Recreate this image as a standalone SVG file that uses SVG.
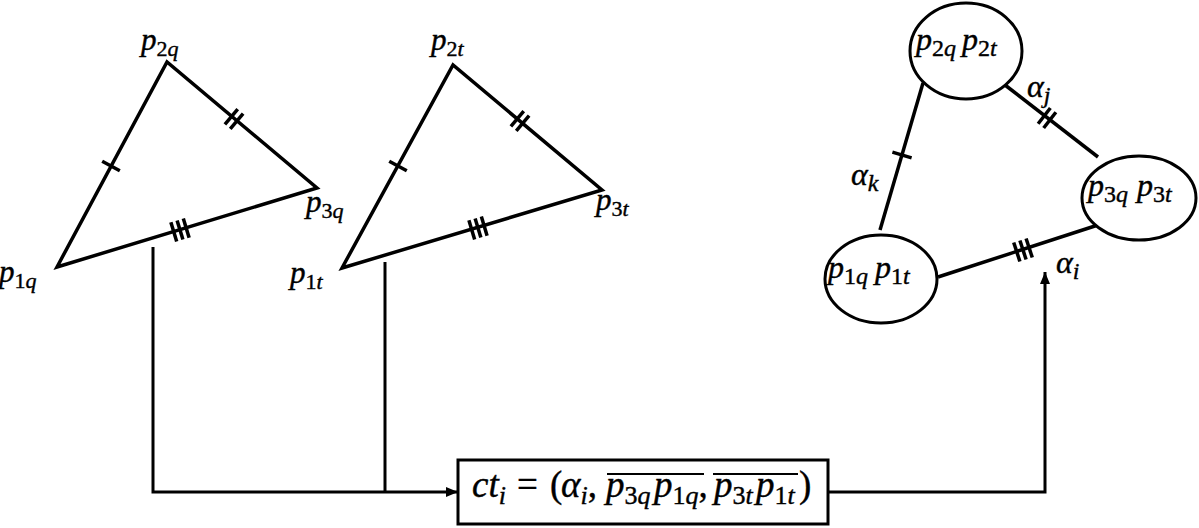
<svg xmlns="http://www.w3.org/2000/svg" width="1199" height="528" viewBox="0 0 1199 528">
<style>
.edge{fill:none;stroke:#000;stroke-width:3.5;stroke-linejoin:miter}
.tk{stroke:#000;stroke-width:3.5}
.conn{fill:none;stroke:#000;stroke-width:3}
.node{fill:#fff;stroke:#000;stroke-width:3}
text{font-family:"Liberation Serif","Times New Roman",serif;font-style:italic;fill:#000;stroke:#000;stroke-width:0.4}
.lbl{font-size:31px}
.el{font-size:32px}
.bx{font-size:37px}
.n{font-style:normal}
.s1{font-size:22px}
.s2{font-size:24px}
.s3{font-size:26px}
</style>
<defs>
<g id="t1"><line class="tk" x1="0" y1="-10" x2="0" y2="10"/></g>
<g id="t2"><line class="tk" x1="-3.5" y1="-10" x2="-3.5" y2="10"/><line class="tk" x1="3.5" y1="-10" x2="3.5" y2="10"/></g>
<g id="t3"><line class="tk" x1="-6.5" y1="-10" x2="-6.5" y2="10"/><line class="tk" x1="0" y1="-10" x2="0" y2="10"/><line class="tk" x1="6.5" y1="-10" x2="6.5" y2="10"/></g>
<marker id="arr" markerUnits="userSpaceOnUse" markerWidth="13" markerHeight="10" refX="12" refY="5" orient="auto"><path d="M0,0 L12,5 L0,10 z" fill="#000"/></marker>
</defs>

<g id="triangle-q">
<polygon class="edge" points="57,267 167,62 317,188"/>
<use href="#t1" transform="translate(111,166) rotate(-61.8)"/>
<use href="#t2" transform="translate(234,119) rotate(40)"/>
<use href="#t3" transform="translate(180,230) rotate(-16.9)"/>
<text class="lbl" x="141" y="50">p<tspan class="s1 n" dy="6">2</tspan><tspan class="s1">q</tspan></text>
<text class="lbl" x="306" y="212">p<tspan class="s1 n" dy="6">3</tspan><tspan class="s1">q</tspan></text>
<text class="lbl" x="-1" y="282">p<tspan class="s1 n" dy="6">1</tspan><tspan class="s1">q</tspan></text>
</g>

<g id="triangle-t">
<polygon class="edge" points="342,268 453,65 602,190"/>
<use href="#t1" transform="translate(398,166) rotate(-61.3)"/>
<use href="#t2" transform="translate(520,121) rotate(40)"/>
<use href="#t3" transform="translate(478,228) rotate(-16.7)"/>
<text class="lbl" x="431" y="50">p<tspan class="s1 n" dy="6">2</tspan><tspan class="s1">t</tspan></text>
<text class="lbl" x="596" y="210">p<tspan class="s1 n" dy="6">3</tspan><tspan class="s1">t</tspan></text>
<text class="lbl" x="290" y="283">p<tspan class="s1 n" dy="6">1</tspan><tspan class="s1">t</tspan></text>
</g>

<g id="graph-edges">
<line class="edge" x1="923" y1="83" x2="880" y2="230"/>
<line class="edge" x1="1005" y1="85" x2="1098" y2="157"/>
<line class="edge" x1="938" y1="277" x2="1098" y2="225"/>
<use href="#t1" transform="translate(902,155) rotate(106.3)"/>
<use href="#t2" transform="translate(1047,118) rotate(37.7)"/>
<use href="#t3" transform="translate(1023,250) rotate(-18)"/>
<text class="el" x="1027" y="97">α<tspan class="s2" dy="6">j</tspan></text>
<text class="el" x="851" y="185">α<tspan class="s2" dy="6">k</tspan></text>
<text class="el" x="1056" y="273">α<tspan class="s2" dy="6">i</tspan></text>
</g>

<g id="node-p2">
<ellipse class="node" cx="966" cy="51" rx="56" ry="48"/>
<text class="el" y="50"><tspan x="916">p</tspan><tspan class="s2 n" dy="6">2</tspan><tspan class="s2">q</tspan><tspan x="962" dy="-6">p</tspan><tspan class="s2 n" dy="6">2</tspan><tspan class="s2">t</tspan></text>
</g>
<g id="node-p3">
<ellipse class="node" cx="1139" cy="198" rx="57" ry="42"/>
<text class="el" y="196"><tspan x="1088">p</tspan><tspan class="s2 n" dy="6">3</tspan><tspan class="s2">q</tspan><tspan x="1137" dy="-6">p</tspan><tspan class="s2 n" dy="6">3</tspan><tspan class="s2">t</tspan></text>
</g>
<g id="node-p1">
<ellipse class="node" cx="881" cy="279" rx="56" ry="44"/>
<text class="el" y="278"><tspan x="828">p</tspan><tspan class="s2 n" dy="6">1</tspan><tspan class="s2">q</tspan><tspan x="875" dy="-6">p</tspan><tspan class="s2 n" dy="6">1</tspan><tspan class="s2">t</tspan></text>
</g>

<g id="box">
<rect class="node" x="458" y="460" width="370" height="64" stroke-width="3.5"/>
<text class="bx" y="497"><tspan x="472">ct</tspan><tspan class="s3" dy="7">i</tspan><tspan class="n" x="517" dy="-7">=</tspan><tspan class="n" x="550">(</tspan><tspan x="561">α</tspan><tspan class="s3" dy="7">i</tspan><tspan class="n" dy="-7">,</tspan><tspan x="606">p</tspan><tspan class="s3 n" dy="7">3</tspan><tspan class="s3">q</tspan><tspan x="654" dy="-7">p</tspan><tspan class="s3 n" dy="7">1</tspan><tspan class="s3">q</tspan><tspan class="n" dy="-7">,</tspan><tspan x="714">p</tspan><tspan class="s3 n" dy="7">3</tspan><tspan class="s3">t</tspan><tspan x="756" dy="-7">p</tspan><tspan class="s3 n" dy="7">1</tspan><tspan class="s3">t</tspan><tspan class="n" x="799" dy="-7">)</tspan></text>
<line x1="607" y1="474" x2="704" y2="474" stroke="#000" stroke-width="2"/>
<line x1="713" y1="474" x2="798" y2="474" stroke="#000" stroke-width="2"/>
</g>

<g id="connectors">
<path class="conn" d="M153,247 V492 H458" marker-end="url(#arr)"/>
<path class="conn" d="M385,262 V492"/>
<path class="conn" d="M828,492 H1045 V272" marker-end="url(#arr)"/>
</g>
</svg>
